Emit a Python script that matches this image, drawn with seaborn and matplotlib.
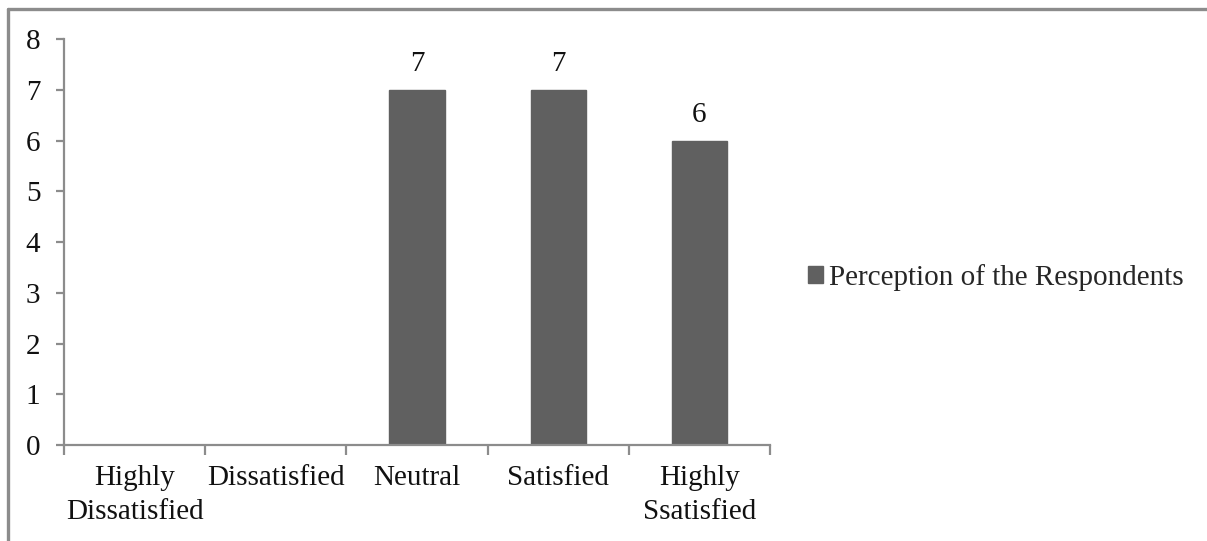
import matplotlib
matplotlib.use("Agg")
import matplotlib.pyplot as plt
from matplotlib.lines import Line2D
from matplotlib.patches import Patch
import seaborn as sns
import pandas as pd
import numpy as np

categories = ["Highly\nDissatisfied", "Dissatisfied", "Neutral", "Satisfied", "Highly\nSsatisfied"]
values = [0, 0, 7, 7, 6]
series_name = "Perception of the Respondents"
y_ticks = [0, 1, 2, 3, 4, 5, 6, 7, 8]

sns.set_theme(style="white")
plt.rcParams["font.family"] = ["Liberation Serif", "DejaVu Serif"]

bar_color = "#606060"
axis_color = "#8c8c8c"
text_color = "#111111"
fs = 21

df = pd.DataFrame({"category": categories, "value": values})

fig = plt.figure(figsize=(12.07, 5.41), dpi=100)
ax = fig.add_axes([0.053, 0.177, 0.585, 0.751])

sns.barplot(data=df, x="category", y="value", color=bar_color, width=0.39,
            saturation=1, ax=ax, edgecolor=bar_color)

ax.set_ylim(0, 8)
ax.set_yticks(y_ticks)
ax.set_xlim(-0.5, len(categories) - 0.5)
ax.set_xlabel("")
ax.set_ylabel("")

# value labels on the non-empty bars
labels = [str(v) if v else "" for v in values]
ax.bar_label(ax.containers[0], labels=labels, padding=9, fontsize=fs, color=text_color)

# spines
for side in ["top", "right"]:
    ax.spines[side].set_visible(False)
for side in ["left", "bottom"]:
    ax.spines[side].set_color(axis_color)
    ax.spines[side].set_linewidth(1.6)

# y ticks
ax.tick_params(axis="y", which="major", left=True, length=6, width=1.6,
               color=axis_color, labelsize=fs, pad=11, labelcolor=text_color)
# x: labels at category centres, tick marks at category boundaries
ax.set_xticks(range(len(categories)))
ax.set_xticklabels(categories, fontsize=fs, color=text_color, linespacing=1.4)
ax.tick_params(axis="x", which="major", bottom=False, length=0, pad=14)
ax.set_xticks(np.arange(-0.5, len(categories)), minor=True)
ax.tick_params(axis="x", which="minor", bottom=True, length=7, width=1.6, color=axis_color)

# legend
handle = Patch(facecolor=bar_color, edgecolor=bar_color)
fig.legend([handle], [series_name], loc="center left", bbox_to_anchor=(0.660, 0.487),
           frameon=False, fontsize=fs, handlelength=0.5, handleheight=0.5,
           handletextpad=0.2, borderaxespad=0)

# outer chart border (top and left edges)
fig.add_artist(Line2D([0.0066, 1.0], [0.984, 0.984], transform=fig.transFigure,
                      color=axis_color, linewidth=2.4))
fig.add_artist(Line2D([0.0066, 0.0066], [0.0, 0.984], transform=fig.transFigure,
                      color=axis_color, linewidth=2.4))

fig.savefig("out.png", dpi=100)
